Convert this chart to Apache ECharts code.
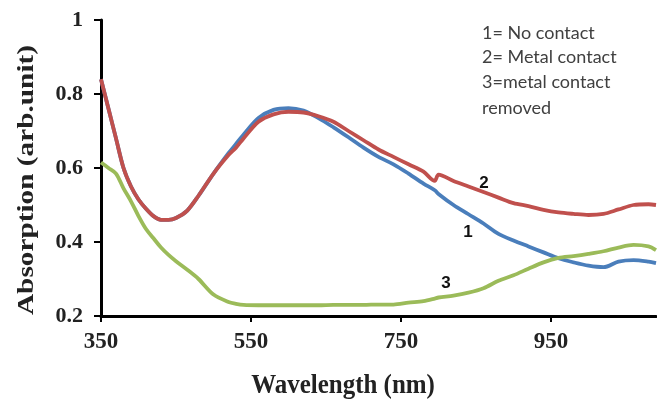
<!DOCTYPE html>
<html>
<head>
<meta charset="utf-8">
<script src="https://cdn.jsdelivr.net/npm/echarts@6/dist/echarts.min.js"></script>
<style>
html,body{margin:0;padding:0;background:#fff;}
#chart{width:657px;height:399px;}
</style>
</head>
<body>
<div id="chart"></div>
<script>
// Wavelength (nm)
var wavelengths = [350,360,370,380,390,400,410,420,430,440,450,465,480,500,520,530,540,560,580,600,620,640,660,680,700,720,740,760,780,795,800,820,840,860,880,900,920,940,960,980,1000,1020,1040,1060,1080,1090];
// 1 = No contact
var noContact = [0.84,0.76,0.68,0.60,0.55,0.515,0.49,0.47,0.46,0.46,0.465,0.485,0.525,0.585,0.64,0.665,0.69,0.735,0.757,0.762,0.755,0.735,0.71,0.683,0.655,0.63,0.61,0.585,0.558,0.54,0.53,0.5,0.475,0.45,0.422,0.404,0.388,0.372,0.356,0.345,0.336,0.332,0.347,0.351,0.347,0.343];
// 2 = Metal contact
var metalContact = [0.84,0.76,0.68,0.60,0.55,0.515,0.49,0.47,0.46,0.46,0.465,0.485,0.525,0.585,0.635,0.655,0.68,0.725,0.745,0.752,0.75,0.74,0.725,0.70,0.675,0.65,0.63,0.61,0.59,0.565,0.582,0.565,0.55,0.535,0.52,0.505,0.497,0.487,0.48,0.476,0.473,0.476,0.488,0.5,0.502,0.5];
// 3 = metal contact removed
var contactRemoved = [0.615,0.60,0.585,0.545,0.51,0.47,0.435,0.41,0.385,0.365,0.348,0.325,0.30,0.258,0.238,0.233,0.23,0.229,0.229,0.229,0.229,0.229,0.23,0.23,0.23,0.231,0.231,0.236,0.24,0.247,0.25,0.255,0.263,0.275,0.295,0.31,0.328,0.345,0.357,0.362,0.368,0.375,0.385,0.392,0.388,0.378];
var xTicks = [350,550,750,950];
var legendLines = ['1= No contact','2= Metal contact','3=metal contact','removed'];
var curveLabels = ['1','2','3'];

function pairs(vals){ return wavelengths.map(function(w,i){ return [w, vals[i]]; }); }

var chart = echarts.init(document.getElementById('chart'), null, {renderer:'canvas'});
var serifBold = {fontFamily:'Liberation Serif', fontWeight:'bold', color:'#222'};
var option = {
  animation:false,
  backgroundColor:'#fff',
  grid:{left:101, top:20, right:1, bottom:83, containLabel:false, outerBoundsMode:'none'},
  xAxis:{
    type:'value', min:350, max:1090, interval:200,
    axisLine:{show:true, lineStyle:{color:'#000', width:3}},
    axisTick:{show:true, inside:false, length:6, lineStyle:{color:'#000', width:2}, customValues:xTicks},
    axisLabel:Object.assign({fontSize:23, margin:15, customValues:xTicks}, serifBold),
    splitLine:{show:false}
  },
  yAxis:{
    type:'value', min:0.2, max:1, interval:0.2,
    axisLine:{show:true, onZero:false, lineStyle:{color:'#000', width:3}},
    axisTick:{show:true, inside:false, length:7, lineStyle:{color:'#000', width:2}},
    axisLabel:Object.assign({fontSize:22, margin:18}, serifBold),
    splitLine:{show:false}
  },
  series:[
    {name:'1', type:'line', data:pairs(noContact), showSymbol:false, smooth:0.3, lineStyle:{color:'#4a7ebb', width:3.8}, itemStyle:{color:'#4a7ebb'}, z:2},
    {name:'2', type:'line', data:pairs(metalContact), showSymbol:false, smooth:0.3, lineStyle:{color:'#c0504d', width:3.8}, itemStyle:{color:'#c0504d'}, z:3},
    {name:'3', type:'line', data:pairs(contactRemoved), showSymbol:false, smooth:0.3, lineStyle:{color:'#9bbb59', width:3.8}, itemStyle:{color:'#9bbb59'}, z:4}
  ],
  graphic:[
    {type:'text', x:27, y:180, rotation:Math.PI/2, scaleX:1.22, style:{text:'Absorption (arb.unit)', font:'bold 24px "Liberation Serif"', fill:'#222', align:'center', verticalAlign:'middle'}},
    {type:'text', x:343, y:386, scaleY:1.1, scaleX:1.04, style:{text:'Wavelength (nm)', font:'bold 24px "Liberation Serif"', fill:'#222', align:'center', verticalAlign:'middle'}},
    {type:'text', x:482, y:33, style:{text:legendLines[0], font:'18px Lato', fill:'#404040', verticalAlign:'middle'}},
    {type:'text', x:482, y:57, style:{text:legendLines[1], font:'18px Lato', fill:'#404040', verticalAlign:'middle'}},
    {type:'text', x:482, y:82, style:{text:legendLines[2], font:'18px Lato', fill:'#404040', verticalAlign:'middle'}},
    {type:'text', x:482, y:108, style:{text:legendLines[3], font:'18px Lato', fill:'#404040', verticalAlign:'middle'}},
    {type:'text', x:468, y:232, style:{text:curveLabels[0], font:'bold 17px "Liberation Sans"', fill:'#111', align:'center', verticalAlign:'middle'}},
    {type:'text', x:484, y:183, style:{text:curveLabels[1], font:'bold 17px "Liberation Sans"', fill:'#111', align:'center', verticalAlign:'middle'}},
    {type:'text', x:446, y:283, style:{text:curveLabels[2], font:'bold 17px "Liberation Sans"', fill:'#111', align:'center', verticalAlign:'middle'}}
  ]
};
chart.setOption(option);
</script>
</body>
</html>
